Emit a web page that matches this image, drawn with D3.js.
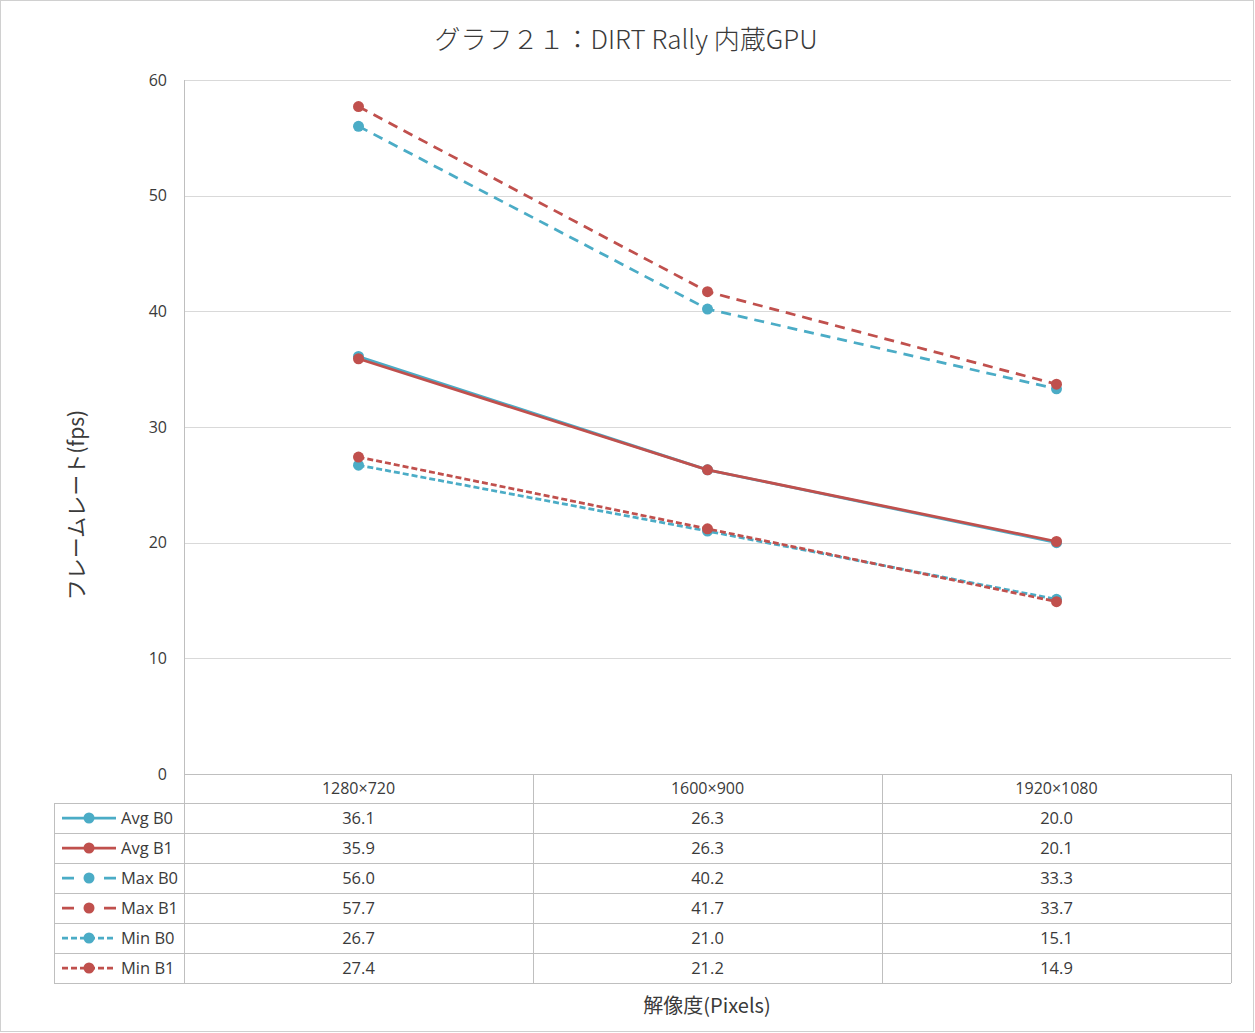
<!DOCTYPE html>
<html>
<head>
<meta charset="utf-8">
<script src="https://cdn.jsdelivr.net/npm/d3@7"></script>
<style>
body { margin: 0; background: #fff; }
svg text { font-family: "Open Sans", "Noto Sans CJK JP", sans-serif; fill: #3a3a3a; }
</style>
</head>
<body>
<svg id="chart"></svg>
<script>
let width = 1255;
let height = 1033;

const categories = ["1280×720", "1600×900", "1920×1080"];
const seriesNames = ["Avg B0", "Avg B1", "Max B0", "Max B1", "Min B0", "Min B1"];
const avgB0 = [36.1, 26.3, 20.0];
const avgB1 = [35.9, 26.3, 20.1];
const maxB0 = [56.0, 40.2, 33.3];
const maxB1 = [57.7, 41.7, 33.7];
const minB0 = [26.7, 21.0, 15.1];
const minB1 = [27.4, 21.2, 14.9];
const yTicks = [0, 10, 20, 30, 40, 50, 60];

const blue = "#4bacc6";
const red = "#c0504d";

const series = [
	{ name: seriesNames[0], values: avgB0, color: blue, dash: null, key: null },
	{ name: seriesNames[1], values: avgB1, color: red, dash: null, key: null },
	{ name: seriesNames[2], values: maxB0, color: blue, dash: "10,7", key: "12,30,12" },
	{ name: seriesNames[3], values: maxB1, color: red, dash: "10,7", key: "12,30,12" },
	{ name: seriesNames[4], values: minB0, color: blue, dash: "6,3", key: "6,3" },
	{ name: seriesNames[5], values: minB1, color: red, dash: "6,3", key: "6,3" },
];

const plot = { left: 184, right: 1231, top: 80, bottom: 774 };
const legendLeft = 54;
const headerH = 29;
const rowH = 30;

function draw() {
	const svg = d3.select("#chart").attr("width", width).attr("height", height);

	svg.append("rect")
		.attr("x", 0.5).attr("y", 0.5)
		.attr("width", width - 2).attr("height", height - 2)
		.attr("fill", "white").attr("stroke", "#d0d0d0");

	const x = d3.scaleBand().domain(categories).range([plot.left, plot.right]);
	const y = d3.scaleLinear().domain([0, 60]).range([plot.bottom, plot.top]);
	const cx = (c) => x(c) + x.bandwidth() / 2;

	// gridlines
	svg.append("g")
		.selectAll("line")
		.data(yTicks)
		.enter()
		.append("line")
		.attr("x1", plot.left).attr("x2", plot.right)
		.attr("y1", (d) => Math.round(y(d)) + 0.5)
		.attr("y2", (d) => Math.round(y(d)) + 0.5)
		.attr("stroke", "#d9d9d9");

	svg.append("line")
		.attr("x1", plot.left + 0.5).attr("x2", plot.left + 0.5)
		.attr("y1", plot.top).attr("y2", plot.bottom)
		.attr("stroke", "#bfbfbf");

	// y tick labels
	svg.append("g")
		.selectAll("text")
		.data(yTicks)
		.enter()
		.append("text")
		.attr("x", 167)
		.attr("y", (d) => y(d))
		.attr("dy", "0.35em")
		.attr("text-anchor", "end")
		.style("font-size", "16px")
		.text((d) => d);

	// series lines
	const line = d3.line()
		.x((d, i) => cx(categories[i]))
		.y((d) => y(d));

	const g = svg.append("g");
	series.forEach((s) => {
		g.append("path")
			.datum(s.values)
			.attr("d", line)
			.attr("fill", "none")
			.attr("stroke", s.color)
			.attr("stroke-width", 2.75)
			.attr("stroke-dasharray", s.dash);
		g.selectAll(null)
			.data(s.values)
			.enter()
			.append("circle")
			.attr("cx", (d, i) => cx(categories[i]))
			.attr("cy", (d) => y(d))
			.attr("r", 5.5)
			.attr("fill", s.color);
	});

	// data table
	const tableBottom = plot.bottom + headerH + rowH * series.length;
	const t = svg.append("g").attr("stroke", "#bfbfbf").attr("shape-rendering", "crispEdges");

	t.append("line")
		.attr("x1", plot.left).attr("x2", plot.right)
		.attr("y1", plot.bottom + 0.5).attr("y2", plot.bottom + 0.5);
	const rowLines = d3.range(series.length + 1).map((i) => plot.bottom + headerH + rowH * i);
	t.selectAll(null)
		.data(rowLines)
		.enter()
		.append("line")
		.attr("x1", legendLeft).attr("x2", plot.right)
		.attr("y1", (d) => d + 0.5).attr("y2", (d) => d + 0.5);
	const colLines = categories.map((c) => x(c)).concat([plot.right]);
	t.selectAll(null)
		.data(colLines)
		.enter()
		.append("line")
		.attr("x1", (d) => Math.round(d) + 0.5).attr("x2", (d) => Math.round(d) + 0.5)
		.attr("y1", plot.bottom).attr("y2", tableBottom);
	t.append("line")
		.attr("x1", legendLeft + 0.5).attr("x2", legendLeft + 0.5)
		.attr("y1", plot.bottom + headerH).attr("y2", tableBottom);

	// header text
	svg.append("g")
		.selectAll("text")
		.data(categories)
		.enter()
		.append("text")
		.attr("x", (d) => cx(d))
		.attr("y", plot.bottom + headerH / 2)
		.attr("dy", "0.35em")
		.attr("text-anchor", "middle")
		.style("font-size", "16px")
		.text((d) => d);

	// rows
	series.forEach((s, r) => {
		const ry = plot.bottom + headerH + rowH * r + rowH / 2;
		const row = svg.append("g");
		row.selectAll("text")
			.data(s.values)
			.enter()
			.append("text")
			.attr("x", (d, i) => cx(categories[i]))
			.attr("y", ry)
			.attr("dy", "0.35em")
			.attr("text-anchor", "middle")
			.style("font-size", "16.5px")
			.text((d) => d.toFixed(1));

		row.append("line")
			.attr("x1", 62).attr("x2", 116)
			.attr("y1", ry).attr("y2", ry)
			.attr("stroke", s.color)
			.attr("stroke-width", 2.75)
			.attr("stroke-dasharray", s.key);
		row.append("circle")
			.attr("cx", 89).attr("cy", ry).attr("r", 5.5)
			.attr("fill", s.color);
		row.append("text")
			.attr("x", 121)
			.attr("y", ry)
			.attr("dy", "0.35em")
			.style("font-size", "16.5px")
			.text(s.name);
	});

	// titles
	svg.append("text")
		.attr("x", 626).attr("y", 40)
		.attr("dy", "0.35em")
		.attr("text-anchor", "middle")
		.style("font-family", "'Noto Sans CJK JP', sans-serif")
		.style("font-size", "26px")
		.style("font-weight", 300)
		.text("グラフ２１：DIRT Rally 内蔵GPU");

	svg.append("text")
		.attr("transform", "translate(77," + 505 + ") rotate(-90)")
		.attr("dy", "0.35em")
		.attr("text-anchor", "middle")
		.style("font-family", "'Noto Sans CJK JP', sans-serif")
		.style("font-size", "21px")
		.text("フレームレート(fps)");

	svg.append("text")
		.attr("x", 707).attr("y", 1006)
		.attr("dy", "0.35em")
		.attr("text-anchor", "middle")
		.style("font-family", "'Noto Sans CJK JP', sans-serif")
		.style("font-size", "20px")
		.text("解像度(Pixels)");
}

draw();
</script>
</body>
</html>
